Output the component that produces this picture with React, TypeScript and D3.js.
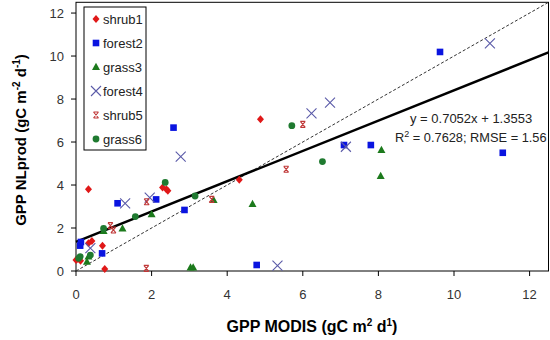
import React from "react";
import * as d3 from "d3";

const xTicks = [0, 2, 4, 6, 8, 10, 12];
const yTicks = [0, 2, 4, 6, 8, 10, 12];

const shrub1X = [0.33, 4.88, 2.29, 2.39, 2.43, 4.32, 0.0, 0.05, 0.12, 0.33, 0.42, 0.7, 0.76];
const shrub1Y = [3.8, 7.06, 3.89, 3.8, 3.73, 4.25, 0.51, 0.56, 0.48, 1.29, 1.4, 1.18, 0.09];

const forest2X = [2.58, 9.63, 7.09, 7.8, 11.29, 4.78, 1.1, 2.12, 2.87, 0.11, 0.13, 0.69];
const forest2Y = [6.67, 10.19, 5.86, 5.86, 5.5, 0.28, 3.15, 3.33, 2.84, 1.18, 1.35, 0.82];

const grass3X = [8.08, 8.06, 4.67, 3.64, 2.0, 1.23, 0.73, 3.03, 3.1, 0.33, 0.29];
const grass3Y = [5.63, 4.42, 3.12, 3.3, 2.64, 1.98, 1.86, 0.16, 0.16, 0.67, 0.43];

const forest4X = [10.95, 6.23, 6.72, 7.14, 5.33, 2.77, 1.3, 1.95, 0.38];
const forest4Y = [10.59, 7.33, 7.83, 5.78, 0.25, 5.32, 3.15, 3.41, 1.06];

const shrub5X = [0.91, 0.99, 1.87, 1.86, 3.59, 6.0, 5.56];
const shrub5Y = [2.11, 1.91, 3.22, 0.12, 3.33, 6.82, 4.73];

const grass6X = [5.71, 6.52, 2.36, 3.15, 1.57, 0.73, 0.11, 0.07, 0.38];
const grass6Y = [6.76, 5.09, 4.12, 3.49, 2.53, 1.98, 0.67, 0.59, 0.74];

const slope = 0.7052;
const intercept = 1.3553;
const domainMax = 12.5;

const seriesNames = ["shrub1", "forest2", "grass3", "forest4", "shrub5", "grass6"];
const seriesColors = ["#e01818", "#0a14e0", "#1c7a1c", "#5a5aa8", "#c03838", "#1f7a30"];

const FONT = "'Liberation Sans', Arial, sans-serif";

function Marker({ kind, x, y, color }: { kind: number; x: number; y: number; color: string }) {
  if (kind === 0) {
    return <path d={`M${x},${y - 4}L${x + 3.5},${y}L${x},${y + 4}L${x - 3.5},${y}Z`} fill={color} />;
  }
  if (kind === 1) {
    return <rect x={x - 3.3} y={y - 3.3} width={6.6} height={6.6} fill={color} />;
  }
  if (kind === 2) {
    return <path d={`M${x},${y - 4.2}L${x + 4},${y + 3}L${x - 4},${y + 3}Z`} fill={color} />;
  }
  if (kind === 3) {
    return (
      <path
        d={`M${x - 5},${y - 5}L${x + 5},${y + 5}M${x - 5},${y + 5}L${x + 5},${y - 5}`}
        stroke={color}
        strokeWidth={1.1}
        fill="none"
      />
    );
  }
  if (kind === 4) {
    return (
      <path
        d={`M${x - 2.5},${y - 3}L${x + 2.5},${y + 3}M${x - 2.5},${y + 3}L${x + 2.5},${y - 3}M${x - 2.5},${y - 3}L${x + 2.5},${y - 3}M${x - 2.5},${y + 3}L${x + 2.5},${y + 3}`}
        stroke={color}
        strokeWidth={1.1}
        fill="none"
      />
    );
  }
  return <circle cx={x} cy={y} r={3.4} fill={color} />;
}

export default function App() {
  const left = 76;
  const right = 548.5;
  const top = 2.3;
  const bottom = 271;
  const x = d3.scaleLinear().domain([0, domainMax]).range([left, right]);
  const y = d3.scaleLinear().domain([0, domainMax]).range([bottom, top]);

  const series = [
    [shrub1X, shrub1Y],
    [forest2X, forest2Y],
    [grass3X, grass3Y],
    [forest4X, forest4Y],
    [shrub5X, shrub5Y],
    [grass6X, grass6Y],
  ];

  const line = d3
    .line<number>()
    .x((d) => x(d))
    .y((d) => y(slope * d + intercept));
  const oneToOne = d3
    .line<number>()
    .x((d) => x(d))
    .y((d) => y(d));

  const regXs = [0, domainMax];

  return (
    <svg
      width={550}
      height={340}
      style={{ position: "absolute", left: 0, top: 0, background: "#fff" }}
      fontFamily={FONT}
    >
      <rect x={0} y={0} width={550} height={340} fill="#fff" />
      <rect x={left} y={top} width={right - left} height={bottom - top} fill="none" stroke="#000" strokeWidth={1} />

      {xTicks.map((t) => (
        <g key={"x" + t}>
          <line x1={x(t)} x2={x(t)} y1={bottom} y2={bottom + 5} stroke="#000" />
          <text x={x(t)} y={bottom + 28} textAnchor="middle" fontSize={13} fill="#333">
            {t}
          </text>
        </g>
      ))}
      {yTicks.map((t) => (
        <g key={"y" + t}>
          <line x1={left - 5} x2={left} y1={y(t)} y2={y(t)} stroke="#000" />
          <text x={left - 12} y={y(t) + 4.5} textAnchor="end" fontSize={13} fill="#333">
            {t}
          </text>
        </g>
      ))}

      <path d={oneToOne(regXs) || ""} stroke="#333" strokeWidth={1} strokeDasharray="3,2" fill="none" />
      <path d={line(regXs) || ""} stroke="#000" strokeWidth={2.5} fill="none" />

      {series.map((s, i) =>
        s[0].map((xv, j) => (
          <Marker key={i + "-" + j} kind={i} x={x(xv)} y={y(s[1][j])} color={seriesColors[i]} />
        ))
      )}

      <text x={410} y={123} fontSize={13} fill="#222">
        y = 0.7052x + 1.3553
      </text>
      <text x={395} y={142} fontSize={12.8} fill="#222">
        R<tspan dy={-5} fontSize={9}>2</tspan>
        <tspan dy={5}> = 0.7628; RMSE = 1.56</tspan>
      </text>

      <rect x={84} y={7} width={62} height={143} fill="#fff" stroke="#000" strokeWidth={1} />
      {seriesNames.map((n, i) => (
        <g key={n}>
          <Marker kind={i} x={96} y={19 + i * 24} color={seriesColors[i]} />
          <text x={103} y={24 + i * 24} fontSize={13} fill="#222">
            {n}
          </text>
        </g>
      ))}

      <text x={312} y={332} textAnchor="middle" fontSize={16} fontWeight="bold" fill="#000">
        GPP MODIS (gC m<tspan dy={-6} fontSize={10}>2</tspan>
        <tspan dy={6}> d</tspan>
        <tspan dy={-6} fontSize={10}>1</tspan>
        <tspan dy={6}>)</tspan>
      </text>
      <text
        transform={`translate(26,140) rotate(-90)`}
        textAnchor="middle"
        fontSize={15}
        fontWeight="bold"
        fill="#000"
      >
        GPP NLprod (gC m<tspan dy={-6} fontSize={10}>-2</tspan>
        <tspan dy={6}> d</tspan>
        <tspan dy={-6} fontSize={10}>-1</tspan>
        <tspan dy={6}>)</tspan>
      </text>
    </svg>
  );
}
